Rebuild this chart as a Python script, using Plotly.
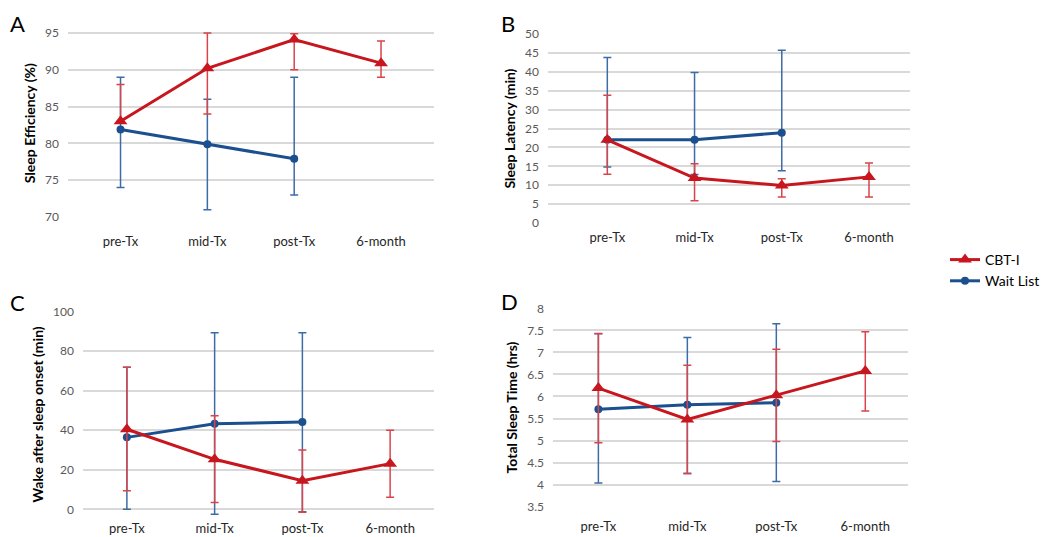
import plotly.graph_objects as go

CATEGORIES = ["pre-Tx", "mid-Tx", "post-Tx", "6-month"]

RED = "#C8161E"
RED_ERR = "#D9444A"
BLUE = "#1B4F8E"
BLUE_ERR = "#3B6CA6"
GRID = "#D9D9D9"

# the page body has an 8px margin, so the figure is drawn 8px smaller and
# laid out in page pixels
OFFSET = 8
W, H = 1050 - OFFSET, 537 - OFFSET

# values: mean, upper bound, lower bound
se_cbt = [83.0, 90.2, 94.1, 90.9]
se_cbt_hi = [88.0, 95.0, 94.9, 93.9]
se_cbt_lo = [83.0, 84.0, 90.0, 89.0]
se_wl = [81.9, 79.9, 77.9, None]
se_wl_hi = [89.0, 86.0, 89.0, None]
se_wl_lo = [74.0, 71.0, 73.0, None]

sl_cbt = [22.0, 11.9, 9.9, 12.2]
sl_cbt_hi = [33.8, 15.7, 11.7, 15.9]
sl_cbt_lo = [12.9, 5.9, 6.9, 6.9]
sl_wl = [22.0, 22.0, 23.9, None]
sl_wl_hi = [43.8, 39.8, 45.7, None]
sl_wl_lo = [14.8, 12.8, 13.8, None]

waso_cbt = [40.5, 25.3, 14.5, 23.1]
waso_cbt_hi = [71.9, 47.4, 30.0, 40.0]
waso_cbt_lo = [9.4, 3.4, -1.5, 6.1]
waso_wl = [36.4, 43.3, 44.2, None]
waso_wl_hi = [71.9, 89.4, 89.4, None]
waso_wl_lo = [0.0, -2.5, -1.2, None]

tst_cbt = [6.19, 5.48, 6.03, 6.58]
tst_cbt_hi = [7.43, 6.71, 7.07, 7.47]
tst_cbt_lo = [4.95, 4.25, 4.98, 5.67]
tst_wl = [5.71, 5.81, 5.86, None]
tst_wl_hi = [7.42, 7.34, 7.65, None]
tst_wl_lo = [4.04, 4.26, 4.07, None]


def fx(px):
    return (px - OFFSET) / W


def fy(py):
    return 1 - (py - OFFSET) / H


PANELS = [
    # letter, title, cbt, wl, yrange, ticks, box (l, r, t, b) in page px, xrange, letter (x, top y), label standoff
    ("A", "Sleep Efficiency (%)", (se_cbt, se_cbt_hi, se_cbt_lo), (se_wl, se_wl_hi, se_wl_lo),
     [70, 95.5], [70, 75, 80, 85, 90, 95], (68, 434, 29.3, 217), [-0.605, 3.61], (8, 8), 15),
    ("B", "Sleep Latency (min)", (sl_cbt, sl_cbt_hi, sl_cbt_lo), (sl_wl, sl_wl_hi, sl_wl_lo),
     [0, 50], list(range(0, 51, 5)), (548, 910, 34, 223), [-0.68, 3.47], (499, 8), 5),
    ("C", "Wake after sleep onset (min)", (waso_cbt, waso_cbt_hi, waso_cbt_lo), (waso_wl, waso_wl_hi, waso_wl_lo),
     [-4, 100], [0, 20, 40, 60, 80, 100], (83, 434, 311.7, 517.2), [-0.5, 3.5], (8, 287), 2),
    ("D", "Total Sleep Time (hrs)", (tst_cbt, tst_cbt_hi, tst_cbt_lo), (tst_wl, tst_wl_hi, tst_wl_lo),
     [3.5, 8], [3.5, 4, 4.5, 5, 5.5, 6, 6.5, 7, 7.5, 8], (553, 908, 308.3, 506.7), [-0.51, 3.48], (499, 286), 10),
]


def _err(mean, hi, lo):
    plus = [None if m is None else h - m for m, h in zip(mean, hi)]
    minus = [None if m is None else m - l for m, l in zip(mean, lo)]
    return plus, minus


fig = go.Figure()
annotations = []

for i, (letter, title, cbt, wl, yrange, ticks, box, xrange_, lpos, xstand) in enumerate(PANELS):
    n = "" if i == 0 else str(i + 1)
    xa, ya = "x" + n, "y" + n
    left, right, top, bottom = box

    for name, (mean, hi, lo), color, ecolor, symbol, size in [
        ("Wait List", wl, BLUE, BLUE_ERR, "circle", 8),
        ("CBT-I", cbt, RED, RED_ERR, "triangle-up", 12),
    ]:
        plus, minus = _err(mean, hi, lo)
        fig.add_trace(go.Scatter(
            x=CATEGORIES, y=mean, name=name, mode="lines+markers",
            xaxis=xa, yaxis=ya, showlegend=(i == 0),
            legendrank=1 if name == "CBT-I" else 2,
            line=dict(color=color, width=3),
            marker=dict(color=color, symbol=symbol, size=size),
            error_y=dict(type="data", array=plus, arrayminus=minus, symmetric=False,
                         color=ecolor, thickness=1.5, width=4),
        ))

    fig.update_layout(**{
        "xaxis" + n: dict(domain=[fx(left), fx(right)], anchor=ya, type="category", range=xrange_,
                          automargin=False, showgrid=False, showline=False, zeroline=False,
                          ticks="", ticklabelstandoff=xstand,
                          tickfont=dict(size=13, color="#262626")),
        "yaxis" + n: dict(domain=[fy(bottom), fy(top)], anchor=xa, range=yrange, tickvals=ticks,
                          automargin=False, showgrid=True, gridcolor=GRID, gridwidth=1.5,
                          zeroline=False, showline=False, ticks="", ticklabelstandoff=8,
                          tickfont=dict(size=12, color="#595959"),
                          title=dict(text="<b>" + title + "</b>",
                                     font=dict(size=14, color="#000000"), standoff=6)),
    })
    annotations.append(dict(text=letter, x=max(fx(lpos[0]), 0), y=fy(lpos[1]),
                            xref="paper", yref="paper", xanchor="left", yanchor="top",
                            showarrow=False, font=dict(size=22, color="#000000")))

fig.update_layout(
    width=W, height=H,
    template="none",
    paper_bgcolor="#ffffff", plot_bgcolor="#ffffff",
    font=dict(family="Lato, Open Sans, sans-serif", color="#000000"),
    margin=dict(l=0, r=0, t=0, b=0),
    annotations=annotations,
    legend=dict(x=fx(945), y=fy(270.5), xanchor="left", yanchor="middle",
                font=dict(size=14), itemwidth=30, tracegroupgap=0),
)

fig.write_html("out.html")
